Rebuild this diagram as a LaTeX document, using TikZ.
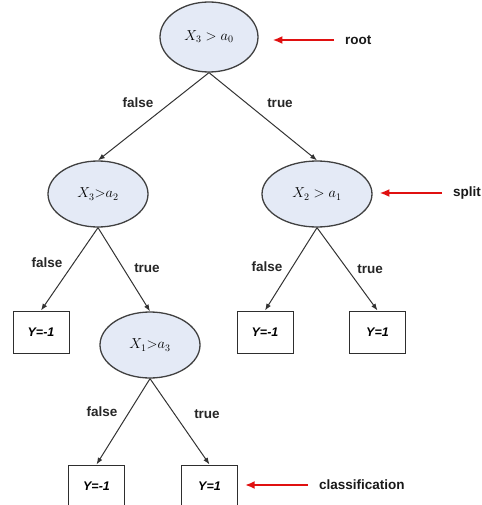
\documentclass[tikz,border=0pt]{standalone}
\usepackage{fontspec}
\setsansfont{Liberation Sans}
\usepackage{tikz}
\usetikzlibrary{arrows.meta, shapes.geometric}
\definecolor{splitfill}{HTML}{E4EAF6}
\definecolor{splitedge}{HTML}{404040}
\definecolor{leafedge}{HTML}{2E2E2E}
\definecolor{notered}{HTML}{E01010}

\begin{document}
\begin{tikzpicture}[
    x=1pt, y=-1pt,
    font=\sffamily\bfseries\fontsize{13.5}{15}\selectfont,
    >={Latex[length=2.4mm,width=1.8mm]},
    splitnode/.style={
      ellipse, draw=splitedge, fill=splitfill,
      line width=1.3pt, inner sep=0pt,
      minimum width=100pt, minimum height=66pt,
      font=\fontsize{14.5}{16}\selectfont,
    },
    leafnode/.style={
      rectangle, draw=leafedge, line width=1pt,
      minimum width=56pt, minimum height=42pt, inner sep=0pt,
      font=\sffamily\bfseries\itshape\fontsize{12.5}{14}\selectfont,
    },
    treearrow/.style={->, line width=1pt, color=black!80},
    notearrow/.style={-{Latex[length=3.4mm,width=2.8mm]},
                      line width=2.4pt, color=notered,
                      shorten <=11pt, shorten >=7pt},
    edgelabel/.style={inner sep=0pt, text=black!85},
    notelabel/.style={inner sep=0pt, anchor=west, text=black!90},
  ]
  \useasboundingbox (0,0) rectangle (481,505);

  % -----------------------------------------------------------
  % Split nodes
  % -----------------------------------------------------------
  \node[splitnode, minimum width=98pt, minimum height=70pt]
                   (root) at (209, 37)  {$X_3 > a_0$};
  \node[splitnode] (xa2)  at (98, 194)  {$X_3{>}a_2$};
  \node[splitnode, minimum width=110pt]
                   (xa1)  at (317, 194) {$X_2 > a_1$};
  \node[splitnode] (xa3)  at (150, 345) {$X_1{>}a_3$};

  % -----------------------------------------------------------
  % Leaves
  % -----------------------------------------------------------
  \node[leafnode] (lfa) at (41, 332)    {Y=-1};
  \node[leafnode] (lfb) at (265, 332)   {Y=-1};
  \node[leafnode] (lfc) at (377.5, 332) {Y=1};
  \node[leafnode] (lfd) at (96.5, 486)  {Y=-1};
  \node[leafnode] (lfe) at (209.5, 486) {Y=1};

  % -----------------------------------------------------------
  % Tree connectors
  % -----------------------------------------------------------
  \draw[treearrow] (root.south) -- (xa2.north);
  \draw[treearrow] (root.south) -- (xa1.north);
  \draw[treearrow] (xa2.south)  -- (lfa.north);
  \draw[treearrow] (xa2.south)  -- (xa3.north);
  \draw[treearrow] (xa1.south)  -- (lfb.north);
  \draw[treearrow] (xa1.south)  -- (lfc.north);
  \draw[treearrow] (xa3.south)  -- (lfd.north);
  \draw[treearrow] (xa3.south)  -- (lfe.north);

  % branch labels
  \node[edgelabel] (fa) at (138, 103) {false};
  \node[edgelabel] (ta) at (280, 103) {true};
  \node[edgelabel] (fb) at (47, 263)  {false};
  \node[edgelabel] (tb) at (147, 268) {true};
  \node[edgelabel] (fc) at (267, 267) {false};
  \node[edgelabel] (tc) at (370, 269) {true};
  \node[edgelabel] (fd) at (102, 412) {false};
  \node[edgelabel] (td) at (207, 414) {true};

  % -----------------------------------------------------------
  % Annotations (red arrows)
  % -----------------------------------------------------------
  \node[notelabel] (rootnote)  at (345, 40)  {root};
  \node[notelabel] (splitnote) at (453, 193) {split};
  \node[notelabel] (classnote) at (319, 485) {classification};

  \draw[notearrow, shorten >=14pt] (rootnote.west) -- (root.east |- rootnote.west);
  \draw[notearrow] (splitnote.west) -- (xa1.east |- splitnote.west);
  \draw[notearrow] (classnote.west) -- (lfe.east |- classnote.west);

\end{tikzpicture}
\end{document}
